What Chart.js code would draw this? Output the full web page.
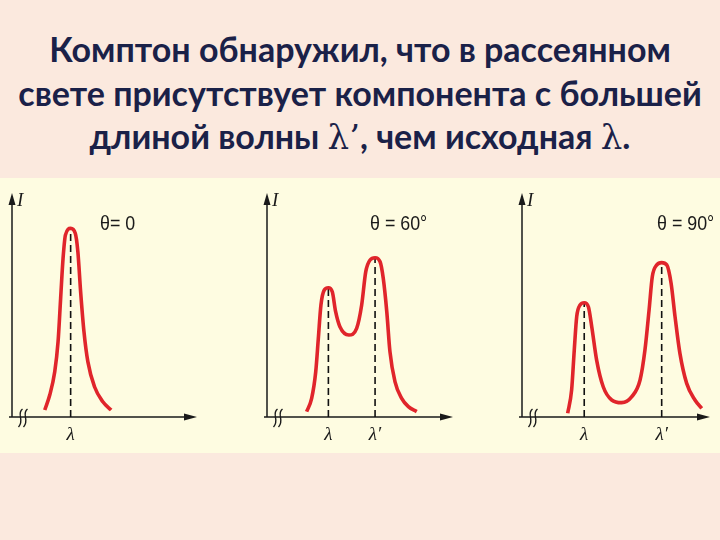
<!DOCTYPE html>
<html>
<head>
<meta charset="utf-8">
<script src="https://cdn.jsdelivr.net/npm/chart.js@4"></script>
<style>
  html, body { margin: 0; padding: 0; }
  body {
    width: 720px; height: 540px; position: relative; overflow: hidden;
    background: #fbe9de;
  }
  #title {
    position: absolute; left: 0; top: 27px; width: 720px;
    text-align: center; font-family: Lato, 'Open Sans', sans-serif;
    font-weight: bold; font-size: 34px; line-height: 43.5px; color: #1a2148;
    white-space: nowrap;
  }
  #title .lam { font-family: 'DejaVu Serif', serif; font-weight: normal; }
  #panel {
    position: absolute; left: 0; top: 178px; width: 720px; height: 275px;
    background: #fefce1;
  }
  canvas { position: absolute; top: 180px; }
</style>
</head>
<body>
<div id="title">Комптон обнаружил, что в рассеянном<br>свете присутствует компонента с большей<br>длиной волны <span class="lam">λ’</span>, чем исходная <span class="lam">λ</span>.</div>
<div id="panel"></div>
<canvas id="c0" width="220" height="270" style="left:0px"></canvas>
<canvas id="c60" width="230" height="270" style="left:240px"></canvas>
<canvas id="c90" width="230" height="270" style="left:490px"></canvas>
<script>
// intensity curves (x: wavelength, 0-100 along axis; y: intensity, 0-100)
const theta0X = [17.7, 20.4, 23.1, 24.9, 26.3, 27.6, 28.9, 31.7, 34.2, 35.6, 37.1, 38.9, 41.0, 44.6, 49.1, 53.6];
const theta0Y = [3.1, 9.8, 20.2, 33.6, 53.1, 70.8, 81.3, 84.2, 82.0, 73.8, 55.9, 38.1, 24.7, 13.5, 6.8, 3.1];

const theta60X = [21.3, 24.0, 26.2, 27.6, 29.0, 30.8, 33.0, 35.1, 36.9, 39.2, 44.0, 48.2, 50.9, 53.1, 55.4, 58.1, 60.8, 62.5, 64.4, 66.1, 68.8, 72.4, 76.0, 80.5];
const theta60Y = [2.4, 8.3, 20.2, 35.1, 50.0, 56.7, 57.7, 55.9, 47.0, 40.3, 36.6, 39.6, 50.0, 64.9, 70.1, 71.1, 69.3, 61.9, 47.0, 29.2, 15.8, 8.3, 4.6, 2.4];

const theta90X = [24.3, 26.4, 27.8, 29.1, 30.9, 33.1, 35.3, 37.1, 39.7, 43.2, 47.7, 53.0, 58.4, 62.8, 65.4, 67.6, 69.3, 71.7, 74.3, 77.0, 79.3, 81.4, 84.0, 87.6, 92.0, 95.6];
const theta90Y = [1.7, 12.1, 29.9, 44.8, 50.0, 51.0, 49.2, 40.3, 25.4, 13.5, 7.6, 6.4, 9.1, 16.5, 29.9, 47.8, 62.6, 67.9, 68.9, 67.9, 59.7, 44.8, 28.4, 15.0, 7.6, 3.9];

// peak positions (dashed markers) and their tick labels
const peaks0X = [31.7];
const peaks0Y = [84.2];
const peaks60X = [33.0, 58.1];
const peaks60Y = [57.7, 71.1];
const peaks90X = [33.1, 74.3];
const peaks90Y = [51.0, 68.9];
const ticks0 = ['λ'];
const ticks2 = ['λ', 'λ′'];
const angleLabels = ['θ= 0', 'θ = 60°', 'θ = 90°'];

function arrow(ctx, x, y, dir) {
    ctx.beginPath();
    if (dir === 'up') {
        ctx.moveTo(x, y);
        ctx.lineTo(x - 3.5, y + 12);
        ctx.lineTo(x + 3.5, y + 12);
    } else {
        ctx.moveTo(x, y);
        ctx.lineTo(x - 13, y - 3.5);
        ctx.lineTo(x - 13, y + 3.5);
    }
    ctx.closePath();
    ctx.fill();
}

function makeChart(id, xs, ys, px, py, tickLabels, angle, pad) {
    const curve = xs.map((x, i) => ({ x, y: ys[i] }));
    const datasets = [{
        data: curve,
        borderColor: '#e0252b',
        borderWidth: 3.6,
        pointRadius: 0,
        fill: false,
        cubicInterpolationMode: 'monotone',
    }];
    px.forEach((x, i) => {
        datasets.push({
            data: [{ x, y: 0 }, { x, y: py[i] }],
            borderColor: '#111',
            borderWidth: 1.6,
            borderDash: [7, 4],
            pointRadius: 0,
            fill: false,
        });
    });

    const decor = {
        id: 'decor',
        beforeDatasetsDraw(chart) {
            const { ctx, chartArea: a } = chart;
            ctx.save();
            ctx.strokeStyle = '#1a1a1a';
            ctx.fillStyle = '#1a1a1a';
            ctx.lineWidth = 1.5;
            ctx.beginPath();
            ctx.moveTo(a.left, a.bottom);
            ctx.lineTo(a.left, a.top + 6);
            ctx.moveTo(a.left - 3, a.bottom);
            ctx.lineTo(a.right - 6, a.bottom);
            ctx.stroke();
            arrow(ctx, a.left, a.top, 'up');
            arrow(ctx, a.right, a.bottom, 'right');
            // axis break marks
            ctx.lineWidth = 1.4;
            for (let k = 0; k < 2; k++) {
                const x0 = a.left + 8 + k * 5;
                ctx.beginPath();
                ctx.moveTo(x0 + 2.5, a.bottom - 8);
                ctx.bezierCurveTo(x0 - 4, a.bottom - 3, x0 + 5, a.bottom + 3, x0 - 1.5, a.bottom + 10);
                ctx.stroke();
            }
            ctx.restore();
        },
        afterDraw(chart) {
            const { ctx, chartArea: a } = chart;
            ctx.save();
            ctx.fillStyle = '#1a1a1a';
            ctx.textBaseline = 'middle';
            ctx.font = 'italic 19px "Liberation Serif", serif';
            ctx.fillText('I', a.left + 5, a.top + 8);
            ctx.translate(a.left + pad.theta, a.top + 31);
            ctx.scale(0.85, 1);
            ctx.font = '21px "Liberation Sans", sans-serif';
            ctx.fillText(angle, 0, 0);
            ctx.restore();
        }
    };

    return new Chart(document.getElementById(id), {
        type: 'line',
        data: { datasets },
        options: {
            responsive: false,
            animation: false,
            devicePixelRatio: 1,
            layout: { padding: { left: pad.left, right: pad.right, top: 13, bottom: 0 } },
            scales: {
                x: {
                    type: 'linear',
                    min: 0,
                    max: 100,
                    grid: { display: false },
                    border: { display: false },
                    afterBuildTicks: (scale) => { scale.ticks = px.map(v => ({ value: v })); },
                    afterFit: (scale) => { scale.height = 33; },
                    ticks: {
                        autoSkip: false,
                        maxRotation: 0,
                        padding: -1,
                        color: '#1a1a1a',
                        font: { family: '"Liberation Serif", serif', style: 'italic', size: 19 },
                        callback: (v, i) => tickLabels[i],
                    },
                },
                y: { display: false, min: 0, max: 100 },
            },
            plugins: { legend: { display: false }, tooltip: { enabled: false } },
        },
        plugins: [decor],
    });
}

makeChart('c0', theta0X, theta0Y, peaks0X, peaks0Y, ticks0, angleLabels[0], { left: 12, right: 23, theta: 88 });
makeChart('c60', theta60X, theta60Y, peaks60X, peaks60Y, ticks2, angleLabels[1], { left: 27, right: 17, theta: 103 });
makeChart('c90', theta90X, theta90Y, peaks90X, peaks90Y, ticks2, angleLabels[2], { left: 32, right: 10, theta: 135 });
</script>
</body>
</html>
